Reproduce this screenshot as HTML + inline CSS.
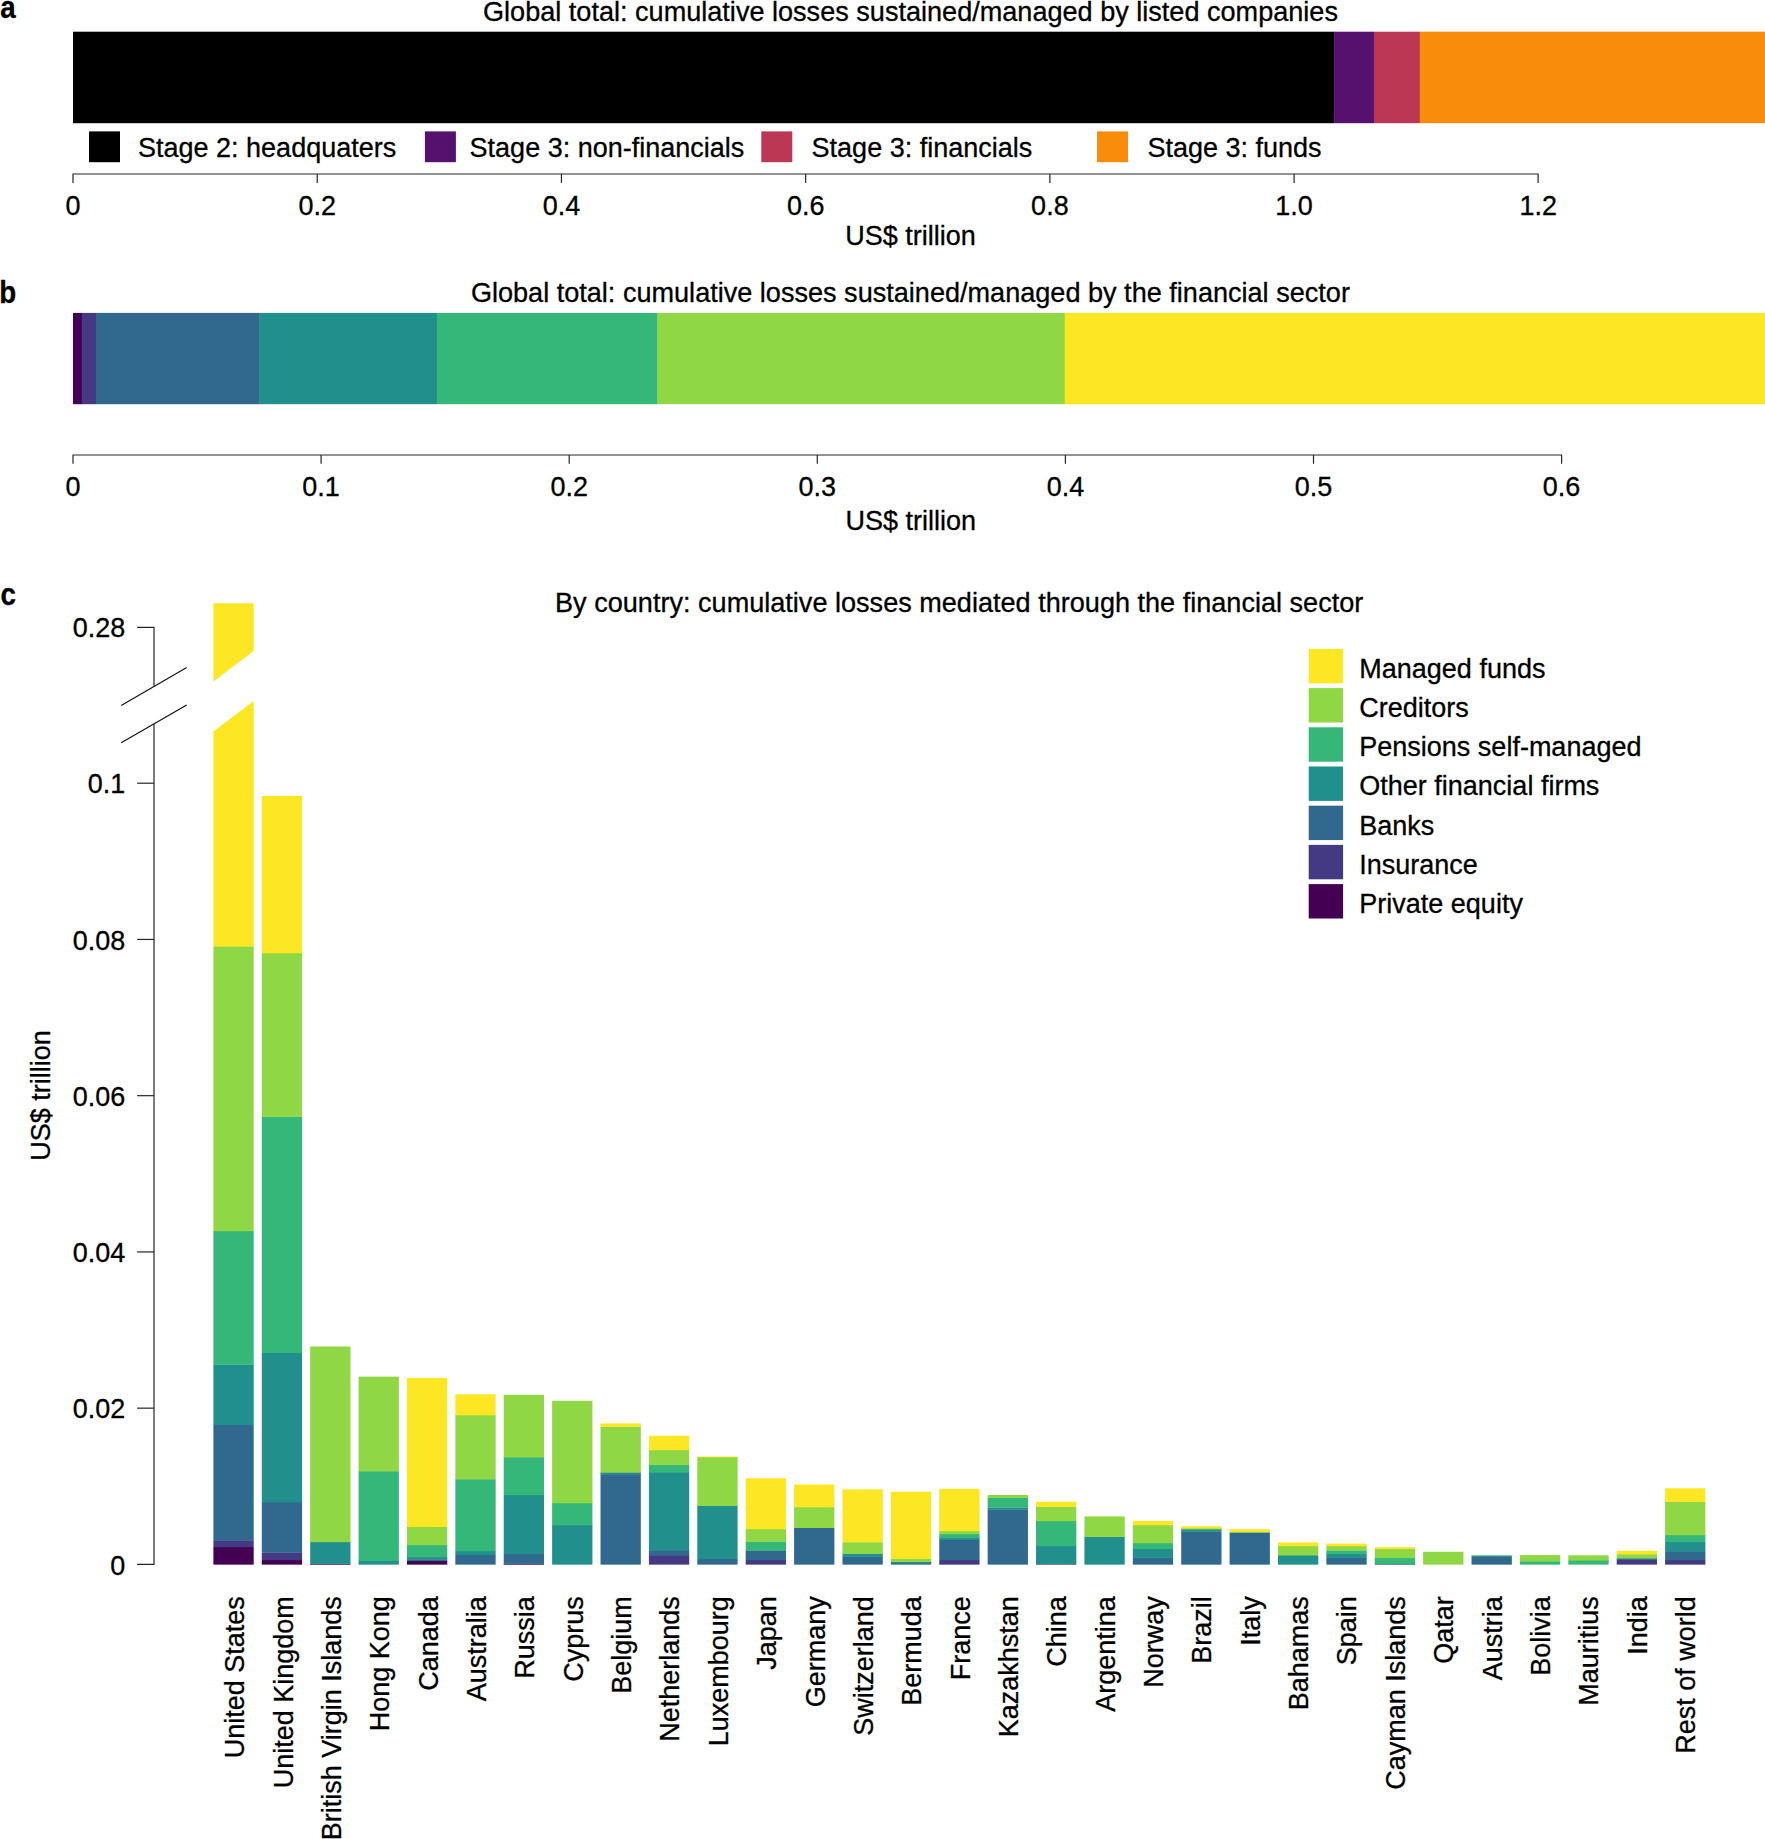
<!DOCTYPE html>
<html lang="en"><head><meta charset="utf-8"><title>Cumulative losses by stage and country</title>
<style>
html,body{margin:0;padding:0;background:#fff}
body{width:1765px;height:1839px;overflow:hidden}
svg{display:block;font-family:"Liberation Sans", Arial, Helvetica, sans-serif;fill:#000}
text{stroke:#000;stroke-width:0.3px;paint-order:stroke fill}
</style></head><body>
<svg width="1765" height="1839" viewBox="0 0 1765 1839">
<rect width="1765" height="1839" fill="#fff"/>
<text transform="translate(0.2 18.1) scale(0.9 1)" font-size="30.8" font-weight="bold">a</text>
<text x="910.50" y="20.90" text-anchor="middle" font-size="27.08">Global total: cumulative losses sustained/managed by listed companies</text>
<rect x="73.00" y="31.70" width="1261.40" height="91.50" fill="#000000"/>
<rect x="1334.10" y="31.70" width="40.10" height="91.50" fill="#56106E"/>
<rect x="1373.90" y="31.70" width="46.20" height="91.50" fill="#BB3754"/>
<rect x="1419.80" y="31.70" width="346.20" height="91.50" fill="#F98C0A"/>
<rect x="89.00" y="131.40" width="31.00" height="30.80" fill="#000000"/>
<text x="138.00" y="156.80" text-anchor="start" font-size="27.0">Stage 2: headquaters</text>
<rect x="424.90" y="131.40" width="31.00" height="30.80" fill="#56106E"/>
<text x="469.60" y="156.80" text-anchor="start" font-size="27.0">Stage 3: non-financials</text>
<rect x="761.30" y="131.40" width="31.00" height="30.80" fill="#BB3754"/>
<text x="811.60" y="156.80" text-anchor="start" font-size="27.0">Stage 3: financials</text>
<rect x="1097.00" y="131.40" width="31.00" height="30.80" fill="#F98C0A"/>
<text x="1147.40" y="156.80" text-anchor="start" font-size="27.0">Stage 3: funds</text>
<path d="M73.0 182.9V174.0H1538.1V182.9" fill="none" stroke="#262626" stroke-width="1.2"/>
<path d="M317.22 174.0V182.9" stroke="#262626" stroke-width="1.2"/>
<path d="M561.44 174.0V182.9" stroke="#262626" stroke-width="1.2"/>
<path d="M805.66 174.0V182.9" stroke="#262626" stroke-width="1.2"/>
<path d="M1049.88 174.0V182.9" stroke="#262626" stroke-width="1.2"/>
<path d="M1294.10 174.0V182.9" stroke="#262626" stroke-width="1.2"/>
<text transform="translate(73.00 214.80) scale(1 1.055)" text-anchor="middle" font-size="27.0">0</text>
<text transform="translate(317.22 214.80) scale(1 1.055)" text-anchor="middle" font-size="27.0">0.2</text>
<text transform="translate(561.44 214.80) scale(1 1.055)" text-anchor="middle" font-size="27.0">0.4</text>
<text transform="translate(805.66 214.80) scale(1 1.055)" text-anchor="middle" font-size="27.0">0.6</text>
<text transform="translate(1049.88 214.80) scale(1 1.055)" text-anchor="middle" font-size="27.0">0.8</text>
<text transform="translate(1294.10 214.80) scale(1 1.055)" text-anchor="middle" font-size="27.0">1.0</text>
<text transform="translate(1538.32 214.80) scale(1 1.055)" text-anchor="middle" font-size="27.0">1.2</text>
<text x="910.50" y="245.00" text-anchor="middle" font-size="27.0">US$ trillion</text>
<text transform="translate(-0.8 302.6) scale(0.9 1)" font-size="30.8" font-weight="bold">b</text>
<text x="910.40" y="302.20" text-anchor="middle" font-size="27.08">Global total: cumulative losses sustained/managed by the financial sector</text>
<rect x="73.00" y="312.90" width="9.10" height="91.30" fill="#440154"/>
<rect x="81.80" y="312.90" width="14.50" height="91.30" fill="#443A83"/>
<rect x="96.00" y="312.90" width="163.80" height="91.30" fill="#31688E"/>
<rect x="259.50" y="312.90" width="177.70" height="91.30" fill="#21908C"/>
<rect x="436.90" y="312.90" width="220.80" height="91.30" fill="#35B779"/>
<rect x="657.40" y="312.90" width="407.60" height="91.30" fill="#8FD744"/>
<rect x="1064.70" y="312.90" width="701.30" height="91.30" fill="#FDE725"/>
<path d="M73.0 463.8V455.0H1561.6V463.8" fill="none" stroke="#262626" stroke-width="1.2"/>
<path d="M321.10 455.0V463.8" stroke="#262626" stroke-width="1.2"/>
<path d="M569.20 455.0V463.8" stroke="#262626" stroke-width="1.2"/>
<path d="M817.30 455.0V463.8" stroke="#262626" stroke-width="1.2"/>
<path d="M1065.40 455.0V463.8" stroke="#262626" stroke-width="1.2"/>
<path d="M1313.50 455.0V463.8" stroke="#262626" stroke-width="1.2"/>
<text transform="translate(73.00 496.20) scale(1 1.055)" text-anchor="middle" font-size="27.0">0</text>
<text transform="translate(321.10 496.20) scale(1 1.055)" text-anchor="middle" font-size="27.0">0.1</text>
<text transform="translate(569.20 496.20) scale(1 1.055)" text-anchor="middle" font-size="27.0">0.2</text>
<text transform="translate(817.30 496.20) scale(1 1.055)" text-anchor="middle" font-size="27.0">0.3</text>
<text transform="translate(1065.40 496.20) scale(1 1.055)" text-anchor="middle" font-size="27.0">0.4</text>
<text transform="translate(1313.50 496.20) scale(1 1.055)" text-anchor="middle" font-size="27.0">0.5</text>
<text transform="translate(1561.60 496.20) scale(1 1.055)" text-anchor="middle" font-size="27.0">0.6</text>
<text x="910.70" y="530.20" text-anchor="middle" font-size="27.0">US$ trillion</text>
<text transform="translate(0.4 605.0) scale(0.9 1)" font-size="30.8" font-weight="bold">c</text>
<text x="959.20" y="611.70" text-anchor="middle" font-size="27.08">By country: cumulative losses mediated through the financial sector</text>
<rect x="213.40" y="1546.90" width="40.30" height="17.75" fill="#440154"/>
<rect x="213.40" y="1540.20" width="40.30" height="7.00" fill="#443A83"/>
<rect x="213.40" y="1424.70" width="40.30" height="115.80" fill="#31688E"/>
<rect x="213.40" y="1364.40" width="40.30" height="60.60" fill="#21908C"/>
<rect x="213.40" y="1230.90" width="40.30" height="133.80" fill="#35B779"/>
<rect x="213.40" y="946.20" width="40.30" height="285.00" fill="#8FD744"/>
<path d="M213.40 946.50H253.70V700.9L213.40 731.6Z" fill="#FDE725"/>
<path d="M213.40 603.2H253.70V651.0L213.40 681.4Z" fill="#FDE725"/>
<text transform="translate(244.25 1596.2) rotate(-90)" text-anchor="end" font-size="27.0">United States</text>
<rect x="261.79" y="1559.90" width="40.30" height="4.75" fill="#440154"/>
<rect x="261.79" y="1552.40" width="40.30" height="7.80" fill="#443A83"/>
<rect x="261.79" y="1502.00" width="40.30" height="50.70" fill="#31688E"/>
<rect x="261.79" y="1352.70" width="40.30" height="149.60" fill="#21908C"/>
<rect x="261.79" y="1116.50" width="40.30" height="236.50" fill="#35B779"/>
<rect x="261.79" y="953.00" width="40.30" height="163.80" fill="#8FD744"/>
<rect x="261.79" y="795.90" width="40.30" height="157.40" fill="#FDE725"/>
<text transform="translate(292.61 1596.2) rotate(-90)" text-anchor="end" font-size="27.0">United Kingdom</text>
<rect x="310.18" y="1564.00" width="40.30" height="0.65" fill="#440154"/>
<rect x="310.18" y="1563.60" width="40.30" height="0.70" fill="#443A83"/>
<rect x="310.18" y="1541.90" width="40.30" height="22.00" fill="#21908C"/>
<rect x="310.18" y="1346.50" width="40.30" height="195.70" fill="#8FD744"/>
<text transform="translate(340.96 1596.2) rotate(-90)" text-anchor="end" font-size="27.0">British Virgin Islands</text>
<rect x="358.57" y="1560.70" width="40.30" height="3.95" fill="#21908C"/>
<rect x="358.57" y="1471.10" width="40.30" height="89.90" fill="#35B779"/>
<rect x="358.57" y="1376.60" width="40.30" height="94.80" fill="#8FD744"/>
<text transform="translate(389.32 1596.2) rotate(-90)" text-anchor="end" font-size="27.0">Hong Kong</text>
<rect x="406.96" y="1560.80" width="40.30" height="3.85" fill="#440154"/>
<rect x="406.96" y="1559.20" width="40.30" height="1.90" fill="#31688E"/>
<rect x="406.96" y="1557.00" width="40.30" height="2.50" fill="#21908C"/>
<rect x="406.96" y="1544.90" width="40.30" height="12.40" fill="#35B779"/>
<rect x="406.96" y="1526.70" width="40.30" height="18.50" fill="#8FD744"/>
<rect x="406.96" y="1377.90" width="40.30" height="149.10" fill="#FDE725"/>
<text transform="translate(437.68 1596.2) rotate(-90)" text-anchor="end" font-size="27.0">Canada</text>
<rect x="455.35" y="1554.90" width="40.30" height="9.75" fill="#31688E"/>
<rect x="455.35" y="1550.90" width="40.30" height="4.30" fill="#21908C"/>
<rect x="455.35" y="1479.10" width="40.30" height="72.10" fill="#35B779"/>
<rect x="455.35" y="1415.00" width="40.30" height="64.40" fill="#8FD744"/>
<rect x="455.35" y="1394.30" width="40.30" height="21.00" fill="#FDE725"/>
<text transform="translate(486.03 1596.2) rotate(-90)" text-anchor="end" font-size="27.0">Australia</text>
<rect x="503.74" y="1564.00" width="40.30" height="0.65" fill="#440154"/>
<rect x="503.74" y="1563.60" width="40.30" height="0.70" fill="#443A83"/>
<rect x="503.74" y="1553.90" width="40.30" height="10.00" fill="#31688E"/>
<rect x="503.74" y="1494.80" width="40.30" height="59.40" fill="#21908C"/>
<rect x="503.74" y="1457.10" width="40.30" height="38.00" fill="#35B779"/>
<rect x="503.74" y="1394.80" width="40.30" height="62.60" fill="#8FD744"/>
<text transform="translate(534.39 1596.2) rotate(-90)" text-anchor="end" font-size="27.0">Russia</text>
<rect x="552.13" y="1525.00" width="40.30" height="39.65" fill="#21908C"/>
<rect x="552.13" y="1503.00" width="40.30" height="22.30" fill="#35B779"/>
<rect x="552.13" y="1400.80" width="40.30" height="102.50" fill="#8FD744"/>
<text transform="translate(582.75 1596.2) rotate(-90)" text-anchor="end" font-size="27.0">Cyprus</text>
<rect x="600.52" y="1474.10" width="40.30" height="90.55" fill="#31688E"/>
<rect x="600.52" y="1472.20" width="40.30" height="2.20" fill="#21908C"/>
<rect x="600.52" y="1426.50" width="40.30" height="46.00" fill="#8FD744"/>
<rect x="600.52" y="1423.40" width="40.30" height="3.40" fill="#FDE725"/>
<text transform="translate(631.11 1596.2) rotate(-90)" text-anchor="end" font-size="27.0">Belgium</text>
<rect x="648.91" y="1555.10" width="40.30" height="9.55" fill="#443A83"/>
<rect x="648.91" y="1550.10" width="40.30" height="5.30" fill="#31688E"/>
<rect x="648.91" y="1472.10" width="40.30" height="78.30" fill="#21908C"/>
<rect x="648.91" y="1464.80" width="40.30" height="7.60" fill="#35B779"/>
<rect x="648.91" y="1449.90" width="40.30" height="15.20" fill="#8FD744"/>
<rect x="648.91" y="1435.70" width="40.30" height="14.50" fill="#FDE725"/>
<text transform="translate(679.46 1596.2) rotate(-90)" text-anchor="end" font-size="27.0">Netherlands</text>
<rect x="697.30" y="1558.80" width="40.30" height="5.85" fill="#31688E"/>
<rect x="697.30" y="1505.70" width="40.30" height="53.40" fill="#21908C"/>
<rect x="697.30" y="1457.00" width="40.30" height="49.00" fill="#8FD744"/>
<rect x="697.30" y="1456.50" width="40.30" height="0.80" fill="#FDE725"/>
<text transform="translate(727.82 1596.2) rotate(-90)" text-anchor="end" font-size="27.0">Luxembourg</text>
<rect x="745.69" y="1559.80" width="40.30" height="4.85" fill="#443A83"/>
<rect x="745.69" y="1550.30" width="40.30" height="9.80" fill="#31688E"/>
<rect x="745.69" y="1541.40" width="40.30" height="9.20" fill="#35B779"/>
<rect x="745.69" y="1528.90" width="40.30" height="12.80" fill="#8FD744"/>
<rect x="745.69" y="1478.30" width="40.30" height="50.90" fill="#FDE725"/>
<text transform="translate(776.18 1596.2) rotate(-90)" text-anchor="end" font-size="27.0">Japan</text>
<rect x="794.08" y="1527.70" width="40.30" height="36.95" fill="#31688E"/>
<rect x="794.08" y="1507.00" width="40.30" height="21.00" fill="#8FD744"/>
<rect x="794.08" y="1484.50" width="40.30" height="22.80" fill="#FDE725"/>
<text transform="translate(824.53 1596.2) rotate(-90)" text-anchor="end" font-size="27.0">Germany</text>
<rect x="842.47" y="1556.60" width="40.30" height="8.05" fill="#31688E"/>
<rect x="842.47" y="1553.60" width="40.30" height="3.30" fill="#21908C"/>
<rect x="842.47" y="1542.10" width="40.30" height="11.80" fill="#8FD744"/>
<rect x="842.47" y="1489.30" width="40.30" height="53.10" fill="#FDE725"/>
<text transform="translate(872.89 1596.2) rotate(-90)" text-anchor="end" font-size="27.0">Switzerland</text>
<rect x="890.86" y="1563.00" width="40.30" height="1.65" fill="#31688E"/>
<rect x="890.86" y="1561.60" width="40.30" height="1.70" fill="#21908C"/>
<rect x="890.86" y="1558.60" width="40.30" height="3.30" fill="#8FD744"/>
<rect x="890.86" y="1491.70" width="40.30" height="67.20" fill="#FDE725"/>
<text transform="translate(921.25 1596.2) rotate(-90)" text-anchor="end" font-size="27.0">Bermuda</text>
<rect x="939.25" y="1559.80" width="40.30" height="4.85" fill="#443A83"/>
<rect x="939.25" y="1539.10" width="40.30" height="21.00" fill="#31688E"/>
<rect x="939.25" y="1537.90" width="40.30" height="1.50" fill="#21908C"/>
<rect x="939.25" y="1533.90" width="40.30" height="4.30" fill="#35B779"/>
<rect x="939.25" y="1530.90" width="40.30" height="3.30" fill="#8FD744"/>
<rect x="939.25" y="1488.80" width="40.30" height="42.40" fill="#FDE725"/>
<text transform="translate(969.61 1596.2) rotate(-90)" text-anchor="end" font-size="27.0">France</text>
<rect x="987.64" y="1509.50" width="40.30" height="55.15" fill="#31688E"/>
<rect x="987.64" y="1507.40" width="40.30" height="2.40" fill="#21908C"/>
<rect x="987.64" y="1497.70" width="40.30" height="10.00" fill="#35B779"/>
<rect x="987.64" y="1495.00" width="40.30" height="3.00" fill="#8FD744"/>
<text transform="translate(1017.96 1596.2) rotate(-90)" text-anchor="end" font-size="27.0">Kazakhstan</text>
<rect x="1036.03" y="1563.80" width="40.30" height="0.85" fill="#443A83"/>
<rect x="1036.03" y="1545.90" width="40.30" height="18.20" fill="#21908C"/>
<rect x="1036.03" y="1520.90" width="40.30" height="25.30" fill="#35B779"/>
<rect x="1036.03" y="1506.50" width="40.30" height="14.70" fill="#8FD744"/>
<rect x="1036.03" y="1501.70" width="40.30" height="5.10" fill="#FDE725"/>
<text transform="translate(1066.32 1596.2) rotate(-90)" text-anchor="end" font-size="27.0">China</text>
<rect x="1084.42" y="1536.60" width="40.30" height="28.05" fill="#21908C"/>
<rect x="1084.42" y="1516.40" width="40.30" height="20.50" fill="#8FD744"/>
<text transform="translate(1114.68 1596.2) rotate(-90)" text-anchor="end" font-size="27.0">Argentina</text>
<rect x="1132.81" y="1557.60" width="40.30" height="7.05" fill="#31688E"/>
<rect x="1132.81" y="1548.80" width="40.30" height="9.10" fill="#21908C"/>
<rect x="1132.81" y="1542.90" width="40.30" height="6.20" fill="#35B779"/>
<rect x="1132.81" y="1524.90" width="40.30" height="18.30" fill="#8FD744"/>
<rect x="1132.81" y="1520.90" width="40.30" height="4.30" fill="#FDE725"/>
<text transform="translate(1163.03 1596.2) rotate(-90)" text-anchor="end" font-size="27.0">Norway</text>
<rect x="1181.20" y="1531.40" width="40.30" height="33.25" fill="#31688E"/>
<rect x="1181.20" y="1529.60" width="40.30" height="2.10" fill="#21908C"/>
<rect x="1181.20" y="1528.80" width="40.30" height="1.10" fill="#35B779"/>
<rect x="1181.20" y="1528.10" width="40.30" height="1.00" fill="#8FD744"/>
<rect x="1181.20" y="1526.20" width="40.30" height="2.20" fill="#FDE725"/>
<text transform="translate(1211.39 1596.2) rotate(-90)" text-anchor="end" font-size="27.0">Brazil</text>
<rect x="1229.59" y="1532.40" width="40.30" height="32.25" fill="#31688E"/>
<rect x="1229.59" y="1531.60" width="40.30" height="1.10" fill="#8FD744"/>
<rect x="1229.59" y="1529.10" width="40.30" height="2.80" fill="#FDE725"/>
<text transform="translate(1259.75 1596.2) rotate(-90)" text-anchor="end" font-size="27.0">Italy</text>
<rect x="1277.98" y="1555.10" width="40.30" height="9.55" fill="#21908C"/>
<rect x="1277.98" y="1545.90" width="40.30" height="9.50" fill="#8FD744"/>
<rect x="1277.98" y="1542.40" width="40.30" height="3.80" fill="#FDE725"/>
<text transform="translate(1308.10 1596.2) rotate(-90)" text-anchor="end" font-size="27.0">Bahamas</text>
<rect x="1326.37" y="1557.60" width="40.30" height="7.05" fill="#31688E"/>
<rect x="1326.37" y="1553.80" width="40.30" height="4.10" fill="#21908C"/>
<rect x="1326.37" y="1550.30" width="40.30" height="3.80" fill="#35B779"/>
<rect x="1326.37" y="1545.90" width="40.30" height="4.70" fill="#8FD744"/>
<rect x="1326.37" y="1543.60" width="40.30" height="2.60" fill="#FDE725"/>
<text transform="translate(1356.46 1596.2) rotate(-90)" text-anchor="end" font-size="27.0">Spain</text>
<rect x="1374.76" y="1564.00" width="40.30" height="0.65" fill="#443A83"/>
<rect x="1374.76" y="1557.80" width="40.30" height="6.50" fill="#35B779"/>
<rect x="1374.76" y="1548.80" width="40.30" height="9.30" fill="#8FD744"/>
<rect x="1374.76" y="1547.10" width="40.30" height="2.00" fill="#FDE725"/>
<text transform="translate(1404.82 1596.2) rotate(-90)" text-anchor="end" font-size="27.0">Cayman Islands</text>
<rect x="1423.15" y="1551.80" width="40.30" height="12.85" fill="#8FD744"/>
<text transform="translate(1453.18 1596.2) rotate(-90)" text-anchor="end" font-size="27.0">Qatar</text>
<rect x="1471.54" y="1556.10" width="40.30" height="8.55" fill="#31688E"/>
<rect x="1471.54" y="1555.30" width="40.30" height="1.10" fill="#35B779"/>
<text transform="translate(1501.53 1596.2) rotate(-90)" text-anchor="end" font-size="27.0">Austria</text>
<rect x="1519.93" y="1561.10" width="40.30" height="3.55" fill="#35B779"/>
<rect x="1519.93" y="1555.10" width="40.30" height="6.30" fill="#8FD744"/>
<text transform="translate(1549.89 1596.2) rotate(-90)" text-anchor="end" font-size="27.0">Bolivia</text>
<rect x="1568.32" y="1560.10" width="40.30" height="4.55" fill="#35B779"/>
<rect x="1568.32" y="1555.30" width="40.30" height="5.10" fill="#8FD744"/>
<text transform="translate(1598.25 1596.2) rotate(-90)" text-anchor="end" font-size="27.0">Mauritius</text>
<rect x="1616.71" y="1559.10" width="40.30" height="5.55" fill="#443A83"/>
<rect x="1616.71" y="1558.10" width="40.30" height="1.30" fill="#21908C"/>
<rect x="1616.71" y="1554.10" width="40.30" height="4.30" fill="#8FD744"/>
<rect x="1616.71" y="1550.80" width="40.30" height="3.60" fill="#FDE725"/>
<text transform="translate(1646.60 1596.2) rotate(-90)" text-anchor="end" font-size="27.0">India</text>
<rect x="1665.10" y="1559.80" width="40.30" height="4.85" fill="#443A83"/>
<rect x="1665.10" y="1551.10" width="40.30" height="9.00" fill="#31688E"/>
<rect x="1665.10" y="1541.90" width="40.30" height="9.50" fill="#21908C"/>
<rect x="1665.10" y="1534.90" width="40.30" height="7.30" fill="#35B779"/>
<rect x="1665.10" y="1501.70" width="40.30" height="33.50" fill="#8FD744"/>
<rect x="1665.10" y="1488.30" width="40.30" height="13.70" fill="#FDE725"/>
<text transform="translate(1694.96 1596.2) rotate(-90)" text-anchor="end" font-size="27.0">Rest of world</text>
<path d="M137.1 627.4H154.0V686.2M154.0 724.0V1564.4H137.1" fill="none" stroke="#262626" stroke-width="1.2"/>
<path d="M137.1 1408.16H154.0" stroke="#262626" stroke-width="1.2"/>
<path d="M137.1 1251.92H154.0" stroke="#262626" stroke-width="1.2"/>
<path d="M137.1 1095.68H154.0" stroke="#262626" stroke-width="1.2"/>
<path d="M137.1 939.44H154.0" stroke="#262626" stroke-width="1.2"/>
<path d="M137.1 783.20H154.0" stroke="#262626" stroke-width="1.2"/>
<path d="M121.2 705.4L186.7 667.5M121.2 742.8L186.7 705.1" stroke="#111" stroke-width="1.2" fill="none"/>
<text transform="translate(125.30 1574.60) scale(1 1.055)" text-anchor="end" font-size="27.0">0</text>
<text transform="translate(125.30 1418.36) scale(1 1.055)" text-anchor="end" font-size="27.0">0.02</text>
<text transform="translate(125.30 1262.12) scale(1 1.055)" text-anchor="end" font-size="27.0">0.04</text>
<text transform="translate(125.30 1105.88) scale(1 1.055)" text-anchor="end" font-size="27.0">0.06</text>
<text transform="translate(125.30 949.64) scale(1 1.055)" text-anchor="end" font-size="27.0">0.08</text>
<text transform="translate(125.30 793.40) scale(1 1.055)" text-anchor="end" font-size="27.0">0.1</text>
<text transform="translate(125.30 637.40) scale(1 1.055)" text-anchor="end" font-size="27.0">0.28</text>
<text transform="translate(50 1095.6) rotate(-90)" text-anchor="middle" font-size="27.0">US$ trillion</text>
<rect x="1308.70" y="648.90" width="34.40" height="34.40" fill="#FDE725"/>
<text x="1359.30" y="677.80" text-anchor="start" font-size="27.0">Managed funds</text>
<rect x="1308.70" y="688.10" width="34.40" height="34.40" fill="#8FD744"/>
<text x="1359.30" y="717.00" text-anchor="start" font-size="27.0">Creditors</text>
<rect x="1308.70" y="727.30" width="34.40" height="34.40" fill="#35B779"/>
<text x="1359.30" y="756.20" text-anchor="start" font-size="27.0">Pensions self-managed</text>
<rect x="1308.70" y="766.50" width="34.40" height="34.40" fill="#21908C"/>
<text x="1359.30" y="795.40" text-anchor="start" font-size="27.0">Other financial firms</text>
<rect x="1308.70" y="805.70" width="34.40" height="34.40" fill="#31688E"/>
<text x="1359.30" y="834.60" text-anchor="start" font-size="27.0">Banks</text>
<rect x="1308.70" y="844.90" width="34.40" height="34.40" fill="#443A83"/>
<text x="1359.30" y="873.80" text-anchor="start" font-size="27.0">Insurance</text>
<rect x="1308.70" y="884.10" width="34.40" height="34.40" fill="#440154"/>
<text x="1359.30" y="913.00" text-anchor="start" font-size="27.0">Private equity</text>
</svg>
</body></html>
